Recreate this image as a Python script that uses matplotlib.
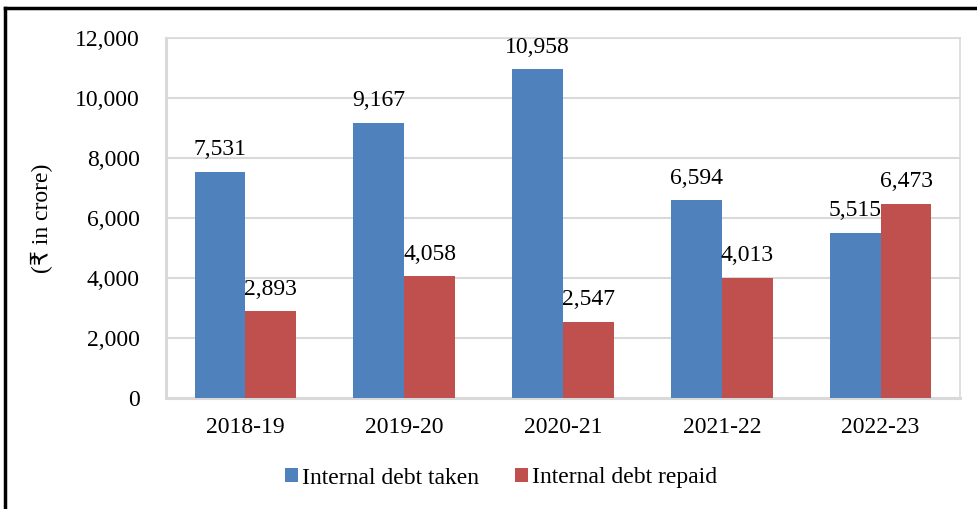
import matplotlib
matplotlib.use("Agg")
import matplotlib.pyplot as plt
import numpy as np
from matplotlib.lines import Line2D
from matplotlib.ticker import FuncFormatter

years = ["2018-19", "2019-20", "2020-21", "2021-22", "2022-23"]
debt_taken = [7531, 9167, 10958, 6594, 5515]
debt_repaid = [2893, 4058, 2547, 4013, 6473]

plt.rcParams['font.family'] = ['Liberation Serif', 'DejaVu Sans']
plt.rcParams['font.size'] = 17

blue = '#4F81BD'
red = '#C0504D'
grey = '#D9D9D9'

fig = plt.figure(figsize=(9.78, 5.09), dpi=100)
ax = fig.add_axes([0.1697, 0.2181, 0.8119, 0.7072])

x = np.arange(len(years))
w = 0.32
b1 = ax.bar(x - w / 2, debt_taken, w, color=blue, label='Internal debt taken', zorder=3)
b2 = ax.bar(x + w / 2, debt_repaid, w, color=red, label='Internal debt repaid', zorder=3)

for bars, vals in [(b1, debt_taken), (b2, debt_repaid)]:
    for r, v in zip(bars, vals):
        ax.annotate(f"{v:,}", (r.get_x() + r.get_width() / 2, v),
                    xytext=(0, 12), textcoords='offset points',
                    ha='center', va='baseline', fontsize=17, zorder=4)

ax.set_xlim(-0.5, len(years) - 0.5)
ax.set_ylim(0, 12000)
ax.set_yticks(range(0, 12001, 2000))
ax.yaxis.set_major_formatter(FuncFormatter(lambda v, p: f"{int(v):,}"))
ax.set_xticks(x)
ax.set_xticklabels(years)
ax.tick_params(axis='y', length=0, pad=19)
ax.tick_params(axis='x', length=0, pad=14)
ax.grid(axis='y', color=grey, linewidth=1.5, zorder=0)

for s in ['top', 'right']:
    ax.spines[s].set_color(grey)
    ax.spines[s].set_linewidth(1.2)
for s in ['left', 'bottom']:
    ax.spines[s].set_color(grey)
    ax.spines[s].set_linewidth(2.2)

ax.set_ylabel('(₹ in crore)', fontsize=17)
ax.yaxis.set_label_coords(-0.1424, 0.5)

ax.legend(loc='center', bbox_to_anchor=(501 / 978, 1 - 478 / 509), bbox_transform=fig.transFigure,
          ncol=2, frameon=False, fontsize=17, handlelength=0.55, handleheight=0.55,
          handletextpad=0.2, columnspacing=1.5)

# outer border (only left and top are inside the picture)
fig.add_artist(Line2D([5 / 978, 5 / 978], [0, 1 - 8 / 509], transform=fig.transFigure,
                      color='black', linewidth=2.5))
fig.add_artist(Line2D([5 / 978, 1], [1 - 8 / 509, 1 - 8 / 509], transform=fig.transFigure,
                      color='black', linewidth=2.5))

fig.savefig('out.png', dpi=100)
